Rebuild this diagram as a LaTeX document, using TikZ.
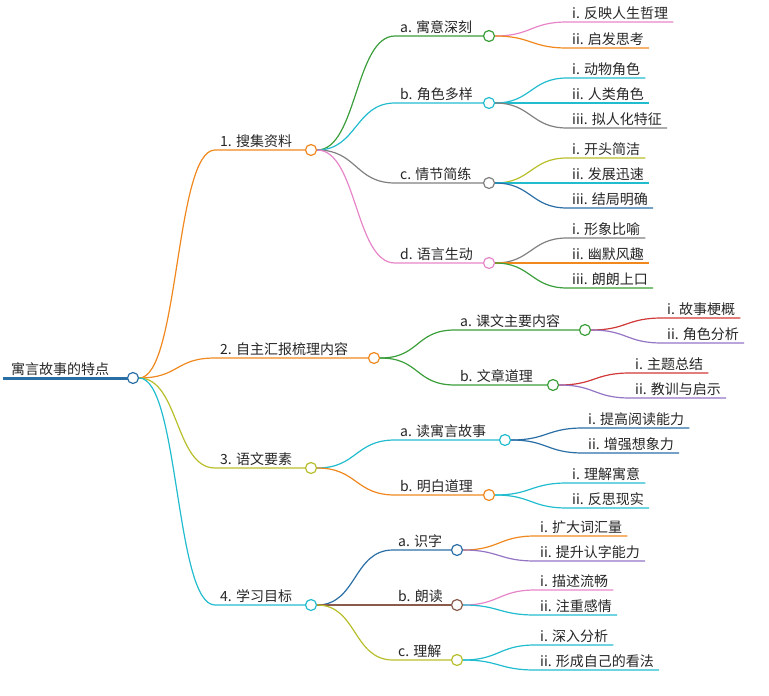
\documentclass[tikz,border=0pt]{standalone}
\usepackage{fontspec}
\setmainfont{Noto Sans CJK SC}
\definecolor{cOr}{HTML}{F0881E}
\definecolor{cGr}{HTML}{3A9E3A}
\definecolor{cCy}{HTML}{22BCCF}
\definecolor{cGy}{HTML}{808080}
\definecolor{cPk}{HTML}{E685C8}
\definecolor{cOl}{HTML}{B8BE2A}
\definecolor{cBl}{HTML}{2A6EA6}
\definecolor{cRd}{HTML}{D13838}
\definecolor{cPu}{HTML}{9474C4}
\definecolor{cBr}{HTML}{8A5A4C}
\tikzset{
 lbl/.style={anchor=south west,inner xsep=5pt,inner ysep=2pt,font=\fontsize{14}{16}\selectfont,text=black!85},
 dotn/.style={circle,fill=white,line width=1.2pt,minimum size=11pt,inner sep=0pt},
 edge/.style={line width=1.2pt},
}
\newcommand\mnode[7]{%
 \coordinate (#1s) at (#3,#5);
 \draw[edge,#6] (#2.east) .. controls +(40,0) and +(-40,0) .. (#1s) -- (#4,#5);
 \node[lbl] at (#1s) {#7};
 \node[dotn,draw=#6] (#1) at (#4,#5) {};
}
\newcommand\leaf[6]{%
 \node[lbl] (#1) at (#3,#4) {#6};
 \draw[edge,#5] (#2.east) .. controls +(36,0) and +(-36,0) .. (#1.south west) -- (#1.south east);
}
\begin{document}
\begin{tikzpicture}[x=1pt,y=-1pt]
\useasboundingbox (0,0) rectangle (769,696);
\draw[cBl,line width=3pt] (3,378) -- (133,378);
\node[lbl,inner xsep=3pt] (rt) at (8,378) {寓言故事的特点};
\node[dotn,draw=cBl] (r) at (133,378) {};
% level 1
\mnode{n1}{r}{215}{311}{150}{cOr}{1. 搜集资料}
\mnode{n2}{r}{215}{374}{358}{cOr}{2. 自主汇报梳理内容}
\mnode{n3}{r}{215}{311}{468}{cOl}{3. 语文要素}
\mnode{n4}{r}{215}{311}{605}{cCy}{4. 学习目标}
% branch 1
\mnode{n1a}{n1}{395}{489}{36}{cGr}{a. 寓意深刻}
\mnode{n1b}{n1}{395}{489}{103}{cCy}{b. 角色多样}
\mnode{n1c}{n1}{395}{489}{183}{cGy}{c. 情节简练}
\mnode{n1d}{n1}{395}{489}{263}{cPk}{d. 语言生动}
\leaf{l1a1}{n1a}{567}{22}{cPk}{i. 反映人生哲理}
\leaf{l1a2}{n1a}{567}{48}{cOr}{ii. 启发思考}
\leaf{l1b1}{n1b}{567}{78}{cCy}{i. 动物角色}
\leaf{l1b2}{n1b}{567}{103}{cCy}{ii. 人类角色}
\leaf{l1b3}{n1b}{567}{128}{cGy}{iii. 拟人化特征}
\leaf{l1c1}{n1c}{567}{158}{cOl}{i. 开头简洁}
\leaf{l1c2}{n1c}{567}{183}{cCy}{ii. 发展迅速}
\leaf{l1c3}{n1c}{567}{208}{cBl}{iii. 结局明确}
\leaf{l1d1}{n1d}{567}{238}{cGy}{i. 形象比喻}
\leaf{l1d2}{n1d}{567}{263}{cOr}{ii. 幽默风趣}
\leaf{l1d3}{n1d}{567}{288}{cGr}{iii. 朗朗上口}
% branch 2
\mnode{n2a}{n2}{455}{585}{330}{cGr}{a. 课文主要内容}
\mnode{n2b}{n2}{455}{553}{385}{cGr}{b. 文章道理}
\leaf{l2a1}{n2a}{662}{318}{cRd}{i. 故事梗概}
\leaf{l2a2}{n2a}{662}{343}{cPu}{ii. 角色分析}
\leaf{l2b1}{n2b}{630}{373}{cRd}{i. 主题总结}
\leaf{l2b2}{n2b}{630}{398}{cPu}{ii. 教训与启示}
% branch 3
\mnode{n3a}{n3}{395}{505}{440}{cCy}{a. 读寓言故事}
\mnode{n3b}{n3}{395}{489}{495}{cOr}{b. 明白道理}
\leaf{l3a1}{n3a}{583}{428}{cBl}{i. 提高阅读能力}
\leaf{l3a2}{n3a}{583}{453}{cBl}{ii. 增强想象力}
\leaf{l3b1}{n3b}{567}{483}{cCy}{i. 理解寓意}
\leaf{l3b2}{n3b}{567}{508}{cCy}{ii. 反思现实}
% branch 4
\mnode{n4a}{n4}{393}{457}{550}{cBl}{a. 识字}
\mnode{n4b}{n4}{393}{457}{605}{cBr}{b. 朗读}
\mnode{n4c}{n4}{393}{457}{660}{cOl}{c. 理解}
\leaf{l4a1}{n4a}{535}{536}{cOr}{i. 扩大词汇量}
\leaf{l4a2}{n4a}{535}{561}{cPu}{ii. 提升认字能力}
\leaf{l4b1}{n4b}{535}{590}{cPk}{i. 描述流畅}
\leaf{l4b2}{n4b}{535}{615}{cCy}{ii. 注重感情}
\leaf{l4c1}{n4c}{535}{645}{cCy}{i. 深入分析}
\leaf{l4c2}{n4c}{535}{670}{cCy}{ii. 形成自己的看法}
\end{tikzpicture}
\end{document}
